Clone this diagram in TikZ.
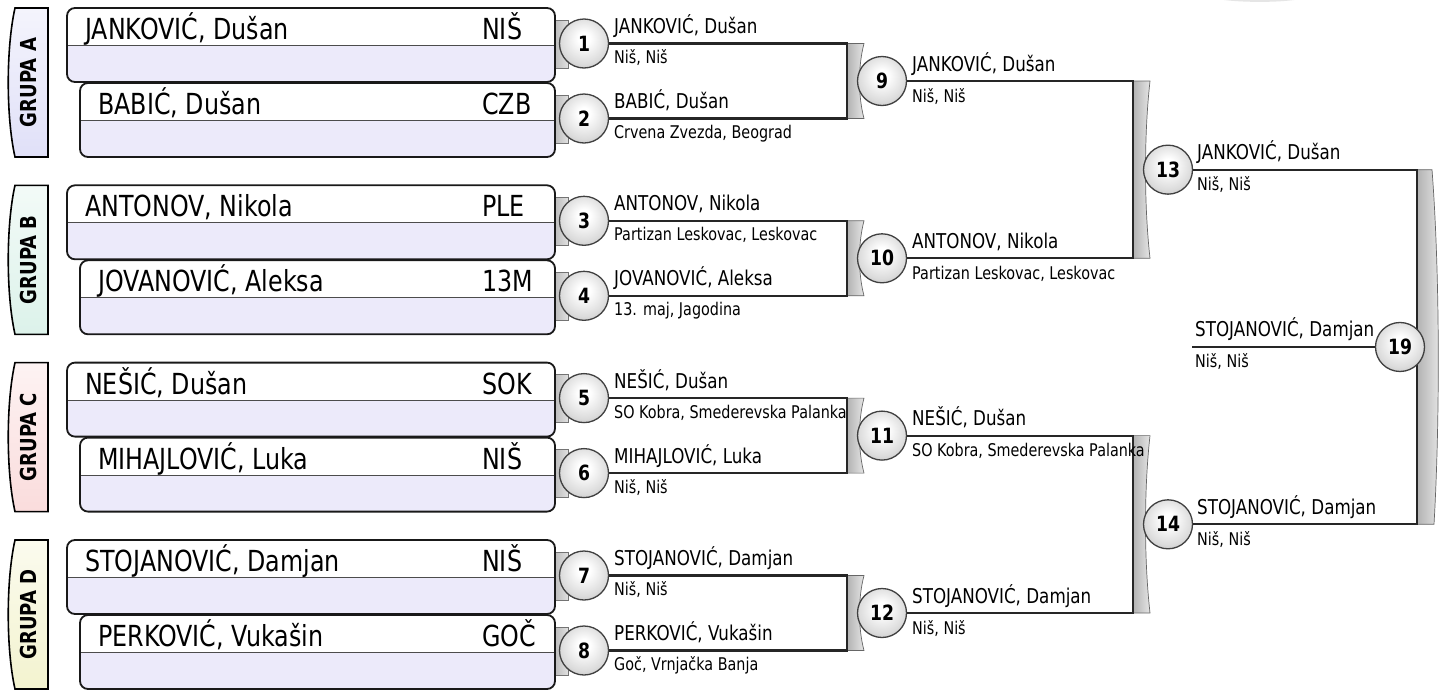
\documentclass[tikz,border=0pt]{standalone}
\usepackage{fontspec}
\newfontfamily\dvs{DejaVu Sans}[FakeStretch=0.82]
\usetikzlibrary{calc}
\definecolor{lav}{HTML}{ECEAFA}
\definecolor{ga}{HTML}{E0E0F8}
\definecolor{gb}{HTML}{DCF2EA}
\definecolor{gc}{HTML}{FADCDC}
\definecolor{gd}{HTML}{F3F3CF}
\pgfdeclareradialshading{ballshade}{\pgfpoint{0bp}{6bp}}{color(0bp)=(white); color(6bp)=(white); color(24bp)=(black!14); color(42bp)=(black!38); color(50bp)=(black!48)}
\tikzset{
 grptab/.style={draw=black, line width=1.6pt},
 grplabel/.style={rotate=90, inner sep=0, font=\dvs\bfseries\fontsize{22}{22}\selectfont},
 boxborder/.style={draw=black!90, line width=1.8pt},
 divider/.style={draw=black!70, line width=0.7pt},
 bname/.style={anchor=base west, inner sep=0, font=\dvs\fontsize{29}{30}\selectfont},
 tabfill/.style={left color=black!28, right color=black!12, draw=black!55, line width=0.6pt},
 brk/.style={left color=black!30, right color=black!10, draw=black!60, line width=0.7pt},
 ball/.style={circle, minimum size=49pt, inner sep=0, draw=black!75, line width=1.3pt, shade, shading=ballshade, font=\dvs\bfseries\fontsize{21}{21}\selectfont},
 wline/.style={draw=black!85, line width=2.2pt},
 lname/.style={anchor=base west, inner sep=0, font=\dvs\fontsize{20.4}{21}\selectfont},
 lclub/.style={anchor=base west, inner sep=0, font=\dvs\fontsize{17.5}{18}\selectfont},
}
% group tab: #1 top y, #2 colour, #3 letter
\newcommand\grp[3]{%
  \path[grptab, top color=#2!35, bottom color=#2] (48,#1) -- (15,#1) .. controls (6,#1+40) and (6,#1+109) .. (15,#1+149) -- (48,#1+149) -- cycle;
  \node[grplabel] (g#3) at (28,#1+74.5) {GRUPA #3};
}
% player box: #1 id, #2 left x, #3 top y, #4 name, #5 code
\newcommand\pbox[5]{%
  \path[tabfill] (553,#3+12) rectangle (568,#3+60);
  \begin{scope}
    \clip[rounded corners=8pt] (#2,#3) rectangle (555,#3+74);
    \fill[lav] (#2,#3) rectangle (555,#3+74);
    \fill[white] (#2,#3) rectangle (555,#3+37.5);
  \end{scope}
  \draw[divider] (#2,#3+37.5) -- (555,#3+37.5);
  \draw[boxborder, rounded corners=8pt] (#2,#3) rectangle (555,#3+74);
  \node[bname] (p#1) at (#2+18,#3+31.5) {#4};
  \node[bname] (q#1) at (482,#3+31.5) {#5};
}
% concave bracket: #1 x, #2 top, #3 bottom
\newcommand\bracket[3]{%
  \path[brk] (#1,#2) -- (#1+17,#2) .. controls (#1+11,{#2+0.3*(#3-#2)}) and (#1+11,{#3-0.3*(#3-#2)}) .. (#1+17,#3) -- (#1,#3) -- cycle;
}
% labels: #1 id, #2 x, #3 line y, #4 name, #5 club, #6 club offset
\newcommand\lab[6]{%
  \node[lname] (nm#1) at (#2,#3-10) {#4};
  \node[lclub] (cl#1) at (#2,#3+#6) {#5};
}
\begin{document}
\begin{tikzpicture}[x=1pt,y=-1pt]
\useasboundingbox (0,0) rectangle (1440,691);
\fill[white] (0,0) rectangle (1440,691);
% faint artefact at top
\fill[black!10] (1224,0) .. controls (1245,2.5) and (1275,2.5) .. (1294,0) -- cycle;

% groups
\grp{8}{ga}{A}
\grp{185.3}{gb}{B}
\grp{362.6}{gc}{C}
\grp{540}{gd}{D}

% player boxes
\pbox{1}{67}{8}{JANKOVIĆ, Dušan}{NIŠ}
\pbox{2}{80}{83}{BABIĆ, Dušan}{CZB}
\pbox{3}{67}{185.3}{ANTONOV, Nikola}{PLE}
\pbox{4}{80}{260.3}{JOVANOVIĆ, Aleksa}{13M}
\pbox{5}{67}{362.6}{NEŠIĆ, Dušan}{SOK}
\pbox{6}{80}{437.6}{MIHAJLOVIĆ, Luka}{NIŠ}
\pbox{7}{67}{540}{STOJANOVIĆ, Damjan}{NIŠ}
\pbox{8}{80}{615}{PERKOVIĆ, Vukašin}{GOČ}

% brackets
\bracket{847}{43.5}{118.5}
\bracket{847}{220.8}{295.8}
\bracket{847}{398.1}{473.1}
\bracket{847}{575.5}{650.5}
\bracket{1133}{81}{258.3}
\bracket{1133}{435.6}{613}
\path[brk] (1417,169.65) -- (1432,169.65) .. controls (1440,275) and (1440,420) .. (1434,524.3) -- (1417,524.3) -- cycle;

% bracket corner coordinates
\coordinate (t9) at (847,43.5);   \coordinate (b9) at (847,118.5);
\coordinate (t10) at (847,220.8); \coordinate (b10) at (847,295.8);
\coordinate (t11) at (847,398.1); \coordinate (b11) at (847,473.1);
\coordinate (t12) at (847,575.5); \coordinate (b12) at (847,650.5);
\coordinate (t13) at (1133,81);   \coordinate (b13) at (1133,258.3);
\coordinate (t14) at (1133,435.6); \coordinate (b14) at (1133,613);
\coordinate (t19) at (1417,169.65); \coordinate (b19) at (1417,524.3);
\coordinate (e19) at (1192,346.98);

% match circles
\node[ball] (c1) at (584,43.5) {1};
\node[ball] (c2) at (584,118.5) {2};
\node[ball] (c3) at (584,220.8) {3};
\node[ball] (c4) at (584,295.8) {4};
\node[ball] (c5) at (584,398.1) {5};
\node[ball] (c6) at (584,473.1) {6};
\node[ball] (c7) at (584,575.5) {7};
\node[ball] (c8) at (584,650.5) {8};
\node[ball] (c9) at (882,81) {9};
\node[ball] (c10) at (882,258.3) {10};
\node[ball] (c11) at (882,435.6) {11};
\node[ball] (c12) at (882,613) {12};
\node[ball] (c13) at (1168,169.65) {13};
\node[ball] (c14) at (1168,524.3) {14};

% connectors
\draw[wline] (c1) -- (t9) -- (b9) -- (c2);
\draw[wline] (c3) -- (t10) -- (b10) -- (c4);
\draw[wline] (c5) -- (t11) -- (b11) -- (c6);
\draw[wline] (c7) -- (t12) -- (b12) -- (c8);
\draw[wline] (c9) -- (t13) -- (b13) -- (c10);
\draw[wline] (c11) -- (t14) -- (b14) -- (c12);
\draw[wline] (c13) -- (t19) -- (b19) -- (c14);

\node[ball] (c19) at (1400,346.98) {19};
\draw[wline] (c19) -- (e19);

% labels
\lab{1}{614}{43.5}{JANKOVIĆ, Dušan}{Niš, Niš}{20}
\lab{2}{614}{118.5}{BABIĆ, Dušan}{Crvena Zvezda, Beograd}{20}
\lab{3}{614}{220.8}{ANTONOV, Nikola}{Partizan Leskovac, Leskovac}{20}
\lab{4}{614}{295.8}{JOVANOVIĆ, Aleksa}{13. maj, Jagodina}{20}
\lab{5}{614}{398.1}{NEŠIĆ, Dušan}{SO Kobra, Smederevska Palanka}{20}
\lab{6}{614}{473.1}{MIHAJLOVIĆ, Luka}{Niš, Niš}{20}
\lab{7}{614}{575.5}{STOJANOVIĆ, Damjan}{Niš, Niš}{20}
\lab{8}{614}{650.5}{PERKOVIĆ, Vukašin}{Goč, Vrnjačka Banja}{20}
\lab{9}{912}{81}{JANKOVIĆ, Dušan}{Niš, Niš}{21}
\lab{10}{912}{258.3}{ANTONOV, Nikola}{Partizan Leskovac, Leskovac}{21}
\lab{11}{912}{435.6}{NEŠIĆ, Dušan}{SO Kobra, Smederevska Palanka}{21}
\lab{12}{912}{613}{STOJANOVIĆ, Damjan}{Niš, Niš}{21}
\lab{13}{1197}{169.65}{JANKOVIĆ, Dušan}{Niš, Niš}{21}
\lab{14}{1197}{524.3}{STOJANOVIĆ, Damjan}{Niš, Niš}{21}
\lab{19}{1195}{346.98}{STOJANOVIĆ, Damjan}{Niš, Niš}{21}
\end{tikzpicture}
\end{document}
